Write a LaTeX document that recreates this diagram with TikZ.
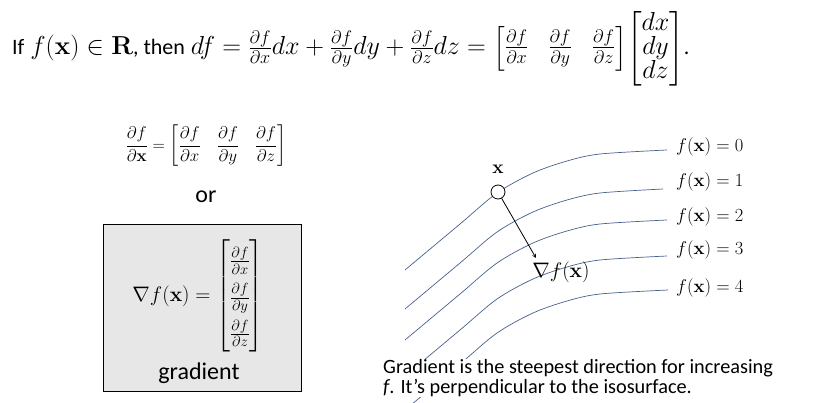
\RequirePackage{fix-cm}
\documentclass[tikz,border=0pt]{standalone}
\usepackage{amsmath}
\usepackage[no-math]{fontspec}
\setmainfont{Carlito}
\usetikzlibrary{positioning}
\definecolor{isoblue}{RGB}{72,96,140}
\definecolor{boxgray}{RGB}{231,231,231}
\newcommand{\txt}[1]{{\fontsize{22}{26}\selectfont #1}}
\begin{document}
\begin{tikzpicture}[x=1pt, y=-1pt,
  iso/.style={draw=isoblue, line width=0.7pt},
  lbl/.style={anchor=west, inner sep=0pt, font=\fontsize{18.5}{20}\selectfont}]
\useasboundingbox (0,0) rectangle (821,403);
% total differential
\node[anchor=base west, inner sep=0pt, font=\fontsize{26}{24}\selectfont] (topeq) at (12,55)
  {\txt{If} $f(\mathbf{x})\in\mathbf{R}$\txt{, then} $df=\frac{\partial f}{\partial x}dx+\frac{\partial f}{\partial y}dy+\frac{\partial f}{\partial z}dz=
  {\arraycolsep=10pt\begin{bmatrix}\frac{\partial f}{\partial x} & \frac{\partial f}{\partial y} & \frac{\partial f}{\partial z}\end{bmatrix}}
  {\renewcommand{\arraystretch}{0.8}\begin{bmatrix}dx\\ dy\\ dz\end{bmatrix}}$\txt{.}};
\node[font=\fontsize{17}{20}\selectfont] (jac) at (206,146)
  {$\dfrac{\partial f}{\partial\mathbf{x}}={\arraycolsep=8pt\begin{bmatrix}\dfrac{\partial f}{\partial x} & \dfrac{\partial f}{\partial y} & \dfrac{\partial f}{\partial z}\end{bmatrix}}$};
\node[font=\fontsize{24}{28}\selectfont] (or) at (206,197) {or};
% gradient box
\node[draw, line width=1pt, fill=boxgray, minimum width=198pt, minimum height=166pt] (gbox) at (202,308) {};
\node[font=\fontsize{21}{25}\selectfont] (grad) at (198,296)
  {$\nabla f(\mathbf{x})={\renewcommand{\arraystretch}{1.45}\begin{bmatrix}\frac{\partial f}{\partial x}\\ \frac{\partial f}{\partial y}\\ \frac{\partial f}{\partial z}\end{bmatrix}}$};
\node[font=\fontsize{24}{28}\selectfont] (gname) at (199,373) {gradient};
% isosurfaces
\foreach \dy/\xe in {0/667, 39/663, 70/667, 106/667, 140/668}
  \draw[iso, shift={(0,\dy)}] plot[smooth] coordinates
    {(405,270) (460,224) (497,193) (533,173) (567,161) (600,154) (\xe,150)};
\foreach \k/\y in {0/147, 1/182, 2/217, 3/250, 4/288}
  \node[lbl] (iso\k) at (676,\y) {$f(\mathbf{x})=\k$};
% point and gradient
\node[circle, draw, thick, fill=white, minimum size=14pt, inner sep=0pt] (pt) at (498,192) {};
\node[above=8pt of pt, font=\fontsize{19}{20}\selectfont] (ptname) {$\mathbf{x}$};
\coordinate (gtip) at (536,258);
\draw[->, >=stealth, thick] (pt) -- (gtip);
\node[font=\fontsize{21}{22}\selectfont] (gradlbl) at (561,272) {$\nabla f(\mathbf{x})$};
\node[anchor=north west, fill=white, inner xsep=2pt, inner ysep=0pt, align=left,
  font=\fontsize{20.3}{20}\selectfont] (note) at (381,359)
  {Gradient is the steepest direction for increasing\\ \textit{f}. It’s perpendicular to the isosurface.};
\end{tikzpicture}
\end{document}
